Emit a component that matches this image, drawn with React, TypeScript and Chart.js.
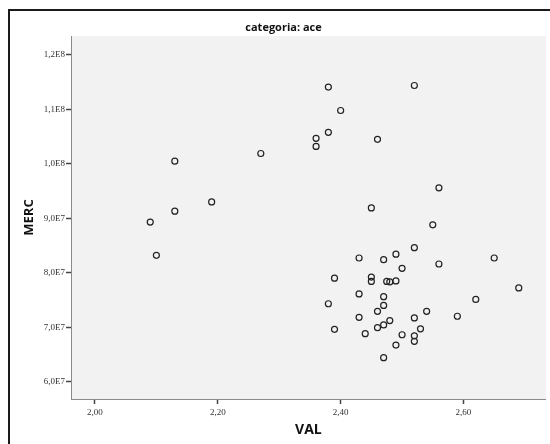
import React, { useEffect, useRef } from "react";
import { Chart, registerables } from "chart.js";

Chart.register(...registerables);

const titleText = "categoria: ace";
const xAxisTitle = "VAL";
const yAxisTitle = "MERC";

const valValues = [
  2.13, 2.27, 2.13, 2.19, 2.09, 2.10, 2.38, 2.52, 2.40, 2.38,
  2.36, 2.36, 2.46, 2.56, 2.45, 2.55, 2.52, 2.43, 2.47, 2.49,
  2.65, 2.56, 2.50, 2.39, 2.45, 2.45, 2.475, 2.48, 2.49, 2.69,
  2.43, 2.62, 2.47, 2.38, 2.47, 2.46, 2.54, 2.59, 2.43, 2.52,
  2.48, 2.39, 2.53, 2.47, 2.46, 2.44, 2.50, 2.52, 2.52, 2.49,
  2.47,
];

const mercValues = [
  1.005e8, 1.019e8, 9.13e7, 9.30e7, 8.93e7, 8.32e7, 1.141e8, 1.144e8, 1.098e8, 1.058e8,
  1.047e8, 1.032e8, 1.045e8, 9.56e7, 9.19e7, 8.88e7, 8.46e7, 8.27e7, 8.24e7, 8.34e7,
  8.27e7, 8.16e7, 8.08e7, 7.90e7, 7.92e7, 7.84e7, 7.84e7, 7.83e7, 7.85e7, 7.72e7,
  7.61e7, 7.51e7, 7.56e7, 7.43e7, 7.40e7, 7.29e7, 7.29e7, 7.20e7, 7.18e7, 7.17e7,
  7.12e7, 6.96e7, 6.97e7, 7.04e7, 6.99e7, 6.88e7, 6.86e7, 6.84e7, 6.74e7, 6.67e7,
  6.44e7,
];

const xTickValues = [2.0, 2.2, 2.4, 2.6];
const xTickLabels = ["2,00", "2,20", "2,40", "2,60"];
const yTickValues = [6e7, 7e7, 8e7, 9e7, 1e8, 1.1e8, 1.2e8];
const yTickLabels = ["6,0E7", "7,0E7", "8,0E7", "9,0E7", "1,0E8", "1,1E8", "1,2E8"];

const X_MIN = 1.961;
const X_MAX = 2.734;
const Y_MIN = 5.68e7;
const Y_MAX = 1.2349e8;

const bgPlugin = {
  id: "plotBg",
  beforeDraw(chart: any) {
    const { ctx, chartArea } = chart;
    if (!chartArea) return;
    ctx.save();
    ctx.fillStyle = "#f2f2f2";
    ctx.fillRect(chartArea.left, chartArea.top, chartArea.right - chartArea.left, chartArea.bottom - chartArea.top);
    ctx.restore();
  },
};

export default function App() {
  const canvasRef = useRef<HTMLCanvasElement | null>(null);

  useEffect(() => {
    if (!canvasRef.current) return;
    const points = valValues.map((v, i) => ({ x: v, y: mercValues[i] }));
    const tickFont = { family: "'Liberation Serif', serif", size: 9 };
    const chart = new Chart(canvasRef.current, {
      type: "scatter",
      data: {
        datasets: [
          {
            data: points,
            pointStyle: "circle",
            pointRadius: 3,
            pointHoverRadius: 3,
            pointBorderWidth: 1.2,
            pointBorderColor: "#222",
            pointBackgroundColor: "rgba(0,0,0,0)",
          },
        ],
      },
      options: {
        responsive: false,
        animation: false,
        devicePixelRatio: 1,
        layout: { padding: { left: 17, right: 0, top: 0, bottom: 0 } },
        plugins: {
          legend: { display: false },
          tooltip: { enabled: false },
          title: {
            display: true,
            text: titleText,
            color: "#111",
            font: { family: "'Open Sans', sans-serif", size: 11, weight: "bold" },
            padding: { top: 21, bottom: 1.8 },
          },
        },
        scales: {
          x: {
            type: "linear",
            min: X_MIN,
            max: X_MAX,
            bounds: "data",
            afterBuildTicks: (scale: any) => {
              scale.ticks = xTickValues.map((v) => ({ value: v }));
            },
            afterFit: (scale: any) => {
              scale.height = 45;
            },
            ticks: {
              autoSkip: false,
              maxRotation: 0,
              padding: 3,
              color: "#333",
              font: tickFont,
              callback: (_v: any, i: number) => xTickLabels[i],
            },
            grid: {
              display: true,
              drawOnChartArea: false,
              drawTicks: true,
              tickLength: 5,
              tickColor: "#444",
              tickWidth: 1.5,
              color: "#444",
            },
            border: { display: true, color: "#8a8a8a", width: 1 },
            title: {
              display: true,
              text: xAxisTitle,
              color: "#111",
              font: { family: "'Open Sans', sans-serif", size: 14, weight: "bold" },
              padding: { top: 0, bottom: 5.6 },
            },
          },
          y: {
            type: "linear",
            min: Y_MIN,
            max: Y_MAX,
            bounds: "data",
            afterBuildTicks: (scale: any) => {
              scale.ticks = yTickValues.map((v) => ({ value: v }));
            },
            afterFit: (scale: any) => {
              scale.width = 54;
            },
            ticks: {
              autoSkip: false,
              padding: 1,
              color: "#333",
              font: tickFont,
              callback: (_v: any, i: number) => yTickLabels[i],
            },
            grid: {
              display: true,
              drawOnChartArea: false,
              drawTicks: true,
              tickLength: 5,
              tickColor: "#444",
              tickWidth: 1.5,
              color: "#444",
            },
            border: { display: true, color: "#8a8a8a", width: 1 },
            title: {
              display: true,
              text: yAxisTitle,
              color: "#111",
              font: { family: "'Open Sans', sans-serif", size: 13, weight: "bold" },
              padding: { top: 4, bottom: 0 },
            },
          },
        },
      },
      plugins: [bgPlugin],
    } as any);
    return () => chart.destroy();
  }, []);

  return (
    <div
      style={{
        position: "fixed",
        left: 0,
        top: 0,
        width: 550,
        height: 444,
        overflow: "hidden",
        background: "#fff",
      }}
    >
      <div
        style={{
          position: "absolute",
          left: 8,
          top: 9,
          width: 700,
          height: 600,
          borderTop: "2px solid #1a1a1a",
          borderLeft: "2px solid #1a1a1a",
        }}
      />
      <canvas
        ref={canvasRef}
        width={550}
        height={444}
        style={{ position: "absolute", left: 0, top: 0, width: 550, height: 444, display: "block" }}
      />
    </div>
  );
}
